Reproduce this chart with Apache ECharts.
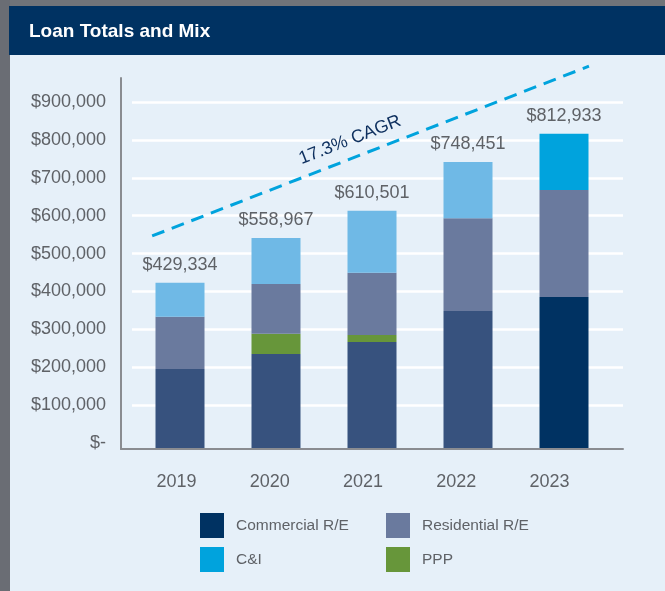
<!DOCTYPE html>
<html>
<head>
<meta charset="utf-8">
<script src="https://cdn.jsdelivr.net/npm/echarts@6/dist/echarts.min.js"></script>
<style>
  html, body { margin: 0; padding: 0; background: #6b6e75; }
  #chart { width: 665px; height: 591px; }
</style>
</head>
<body>
<div id="chart"></div>
<script>
const years = ["2019", "2020", "2021", "2022", "2023"];
const totals = [429334, 558967, 610501, 748451, 812933];
const commercial = [207000, 246000, 277000, 357000, 393000];
const ppp = [0, 52000, 18000, 0, 0];
const residential = [135000, 129000, 161000, 240000, 277000];
const ci = [88000, 119000, 160000, 145000, 145000];
const yTicks = [0, 100000, 200000, 300000, 400000, 500000, 600000, 700000, 800000, 900000];
// dashed growth line, in bar-grid coordinates (category index, value)
const cagrX = [-0.29, 4.26];
const cagrY = [551000, 990000];
const cagrText = "17.3% CAGR";

const FONT = "'Liberation Sans', Arial, sans-serif";
const GREY = "#5f6267";

// earlier years are drawn in faded tones, 2023 in full colour
const faded = { commercial: "#37527e", residential: "#6a7a9e", ci: "#6fb9e6", ppp: "#67963a" };
const full = { commercial: "#003262", residential: "#6a7a9e", ci: "#00a3dd", ppp: "#67963a" };

function money(v) {
  if (v === 0) return "$-";
  return "$" + String(v).replace(/\B(?=(\d{3})+(?!\d))/g, ",");
}

function colored(values, key) {
  return values.map((v, i) => ({
    value: v,
    itemStyle: { color: i === values.length - 1 ? full[key] : faded[key] }
  }));
}

function barSeries(name, values, key) {
  return {
    name,
    type: "bar",
    stack: "loans",
    xAxisIndex: 0,
    yAxisIndex: 0,
    barWidth: 49,
    itemStyle: { color: full[key] },
    data: colored(values, key)
  };
}

const chart = echarts.init(document.getElementById("chart"));

const option = {
  backgroundColor: "#e6f0f9",
  animation: false,
  textStyle: { fontFamily: FONT },
  title: {
    text: "Loan Totals and Mix",
    left: 29,
    top: 22,
    padding: 0,
    textStyle: {
      color: "#ffffff",
      fontSize: 19,
      fontWeight: "bold",
      fontFamily: FONT
    }
  },
  graphic: {
    elements: [
      { type: "rect", left: 0, top: 0, z: -1, shape: { width: 665, height: 6 }, style: { fill: "#717479" } },
      { type: "rect", left: 0, top: 0, z: -1, shape: { width: 10, height: 591 }, style: { fill: "#6a6d74" } },
      { type: "rect", left: 9, top: 6, z: -1, shape: { width: 656, height: 49 }, style: { fill: "#003262" } },
      {
        type: "text",
        x: 350,
        y: 140,
        rotation: 0.372,
        z: 10,
        style: {
          text: cagrText,
          fill: "#0d2f5e",
          font: "18px " + FONT,
          textAlign: "center",
          textVerticalAlign: "middle"
        }
      }
    ]
  },
  legend: [
    {
      data: ["Commercial R/E", "C&I"],
      orient: "vertical",
      left: 200,
      top: 513,
      padding: 0,
      itemWidth: 24,
      itemHeight: 25,
      itemGap: 9,
      icon: "rect",
      selectedMode: false,
      textStyle: { fontSize: 15.5, color: GREY, padding: [0, 0, 0, 7] }
    },
    {
      data: ["Residential R/E", "PPP"],
      orient: "vertical",
      left: 386,
      top: 513,
      padding: 0,
      itemWidth: 24,
      itemHeight: 25,
      itemGap: 9,
      icon: "rect",
      selectedMode: false,
      textStyle: { fontSize: 15.5, color: GREY, padding: [0, 0, 0, 7] }
    }
  ],
  grid: [
    // bars
    { left: 132, right: 53, top: 101, bottom: 142 },
    // gridlines and value labels
    { left: 132, right: 42, top: 102, bottom: 148 },
    // axis frame
    { left: 121, right: 42, top: 78, bottom: 142 },
    // year labels
    { left: 130, right: 69, top: 101, bottom: 142 }
  ],
  xAxis: [
    { type: "category", gridIndex: 0, data: years, show: false },
    { type: "value", gridIndex: 0, min: -0.5, max: 4.5, show: false },
    { type: "value", gridIndex: 1, min: 0, max: 1, show: false },
    {
      type: "value", gridIndex: 2, min: 0, max: 1, z: 3,
      axisLine: { show: true, onZero: false, lineStyle: { color: "#8a8c91", width: 2 } },
      axisTick: { show: false }, axisLabel: { show: false }, splitLine: { show: false }
    },
    {
      type: "category", gridIndex: 3, data: years,
      axisLine: { show: false }, axisTick: { show: false },
      axisLabel: { color: GREY, fontSize: 18, margin: 24 }
    }
  ],
  yAxis: [
    { type: "value", gridIndex: 0, min: 0, max: 900000, show: false },
    {
      type: "value", gridIndex: 1, min: yTicks[0], max: yTicks[yTicks.length - 1],
      interval: yTicks[1] - yTicks[0], z: 0,
      axisLine: { show: false }, axisTick: { show: false },
      axisLabel: { color: GREY, fontSize: 18, margin: 26, formatter: money },
      splitLine: { showMinLine: false, lineStyle: { color: "#ffffff", width: 2.5 } }
    },
    {
      type: "value", gridIndex: 2, min: 0, max: 1, z: 3,
      axisLine: { show: true, onZero: false, lineStyle: { color: "#8a8c91", width: 2 } },
      axisTick: { show: false }, axisLabel: { show: false }, splitLine: { show: false }
    },
    { type: "value", gridIndex: 3, min: 0, max: 1, show: false }
  ],
  series: [
    barSeries("Commercial R/E", commercial, "commercial"),
    barSeries("PPP", ppp, "ppp"),
    barSeries("Residential R/E", residential, "residential"),
    Object.assign(barSeries("C&I", ci, "ci"), {
      label: {
        show: true,
        position: "top",
        distance: 9,
        color: GREY,
        fontSize: 18,
        formatter: (p) => money(totals[p.dataIndex])
      }
    }),
    {
      type: "line",
      xAxisIndex: 1,
      yAxisIndex: 0,
      clip: false,
      symbol: "none",
      silent: true,
      z: 4,
      lineStyle: { color: "#00a3dd", width: 3, type: [13, 8] },
      data: [[cagrX[0], cagrY[0]], [cagrX[1], cagrY[1]]]
    }
  ]
};

chart.setOption(option);
</script>
</body>
</html>
